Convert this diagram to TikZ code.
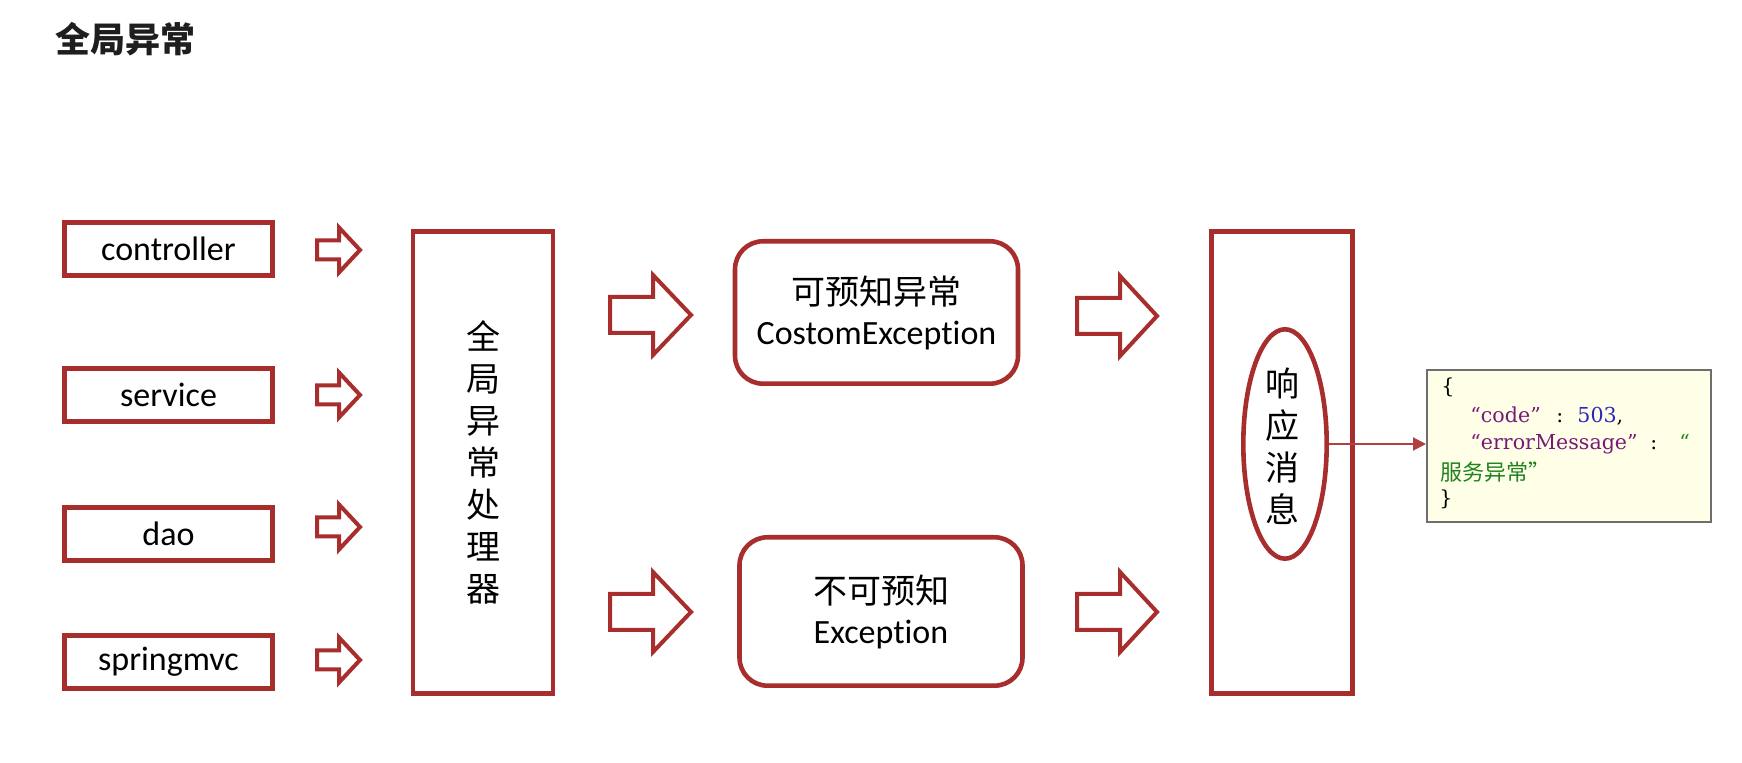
\documentclass[tikz,border=0pt]{standalone}
\usepackage{fontspec}
\setmainfont{Carlito}[Ligatures={NoCommon,NoContextual}]
\newfontfamily\cjk{Noto Sans CJK SC}
\newfontfamily\jsonfont{DejaVu Serif}
\usetikzlibrary{shapes.geometric,arrows.meta}
\definecolor{boxred}{RGB}{168,45,45}
\definecolor{thinred}{RGB}{175,65,65}
\definecolor{titlegray}{RGB}{30,30,30}
\definecolor{jsonbg}{RGB}{255,255,232}
\definecolor{jsonframe}{RGB}{110,110,110}
\definecolor{jpurple}{RGB}{120,25,120}
\definecolor{jblue}{RGB}{40,40,190}
\definecolor{jgreen}{RGB}{30,130,30}
% x1, x of head start, x of tip, y centre, shaft half height, head half height
\newcommand\myblockarrow[6]{%
  \draw[blockarrowline] (#1,{#4-#5}) -- (#2,{#4-#5}) -- (#2,{#4-#6}) -- (#3,#4)
    -- (#2,{#4+#6}) -- (#2,{#4+#5}) -- (#1,{#4+#5}) -- cycle;}
\begin{document}
\begin{tikzpicture}[x=0.5pt,y=-0.5pt,
  redbox/.style={draw=boxred, line width=2.3pt, inner sep=0pt, fill=white,
    font=\fontsize{17}{20}\selectfont, align=center},
  smallbox/.style={redbox, minimum width=104.2pt, minimum height=26.7pt},
  tallbox/.style={redbox, minimum width=70pt, minimum height=231.2pt},
  roundbox/.style={redbox, rounded corners=14pt, minimum width=141.5pt},
  vtext/.style={font=\cjk\fontsize{17}{21}\selectfont, align=center, inner sep=0pt},
  blockarrowline/.style={draw=boxred, line width=2pt, line join=miter},
  jtext/.style={anchor=base west, inner sep=0pt, font=\jsonfont\fontsize{10.3}{12}\selectfont},
  jcjk/.style={anchor=base west, inner sep=0pt, font=\cjk\fontsize{11}{12}\selectfont},
]
\fill[white] (0,0) rectangle (1742,763);
\useasboundingbox (0,0) rectangle (1742,763);

% title
\node[anchor=west, inner sep=0pt, font=\cjk\bfseries\fontsize{17.5}{20}\selectfont,
  text=titlegray] (title) at (55,39) {全局异常};

% sources
\node[smallbox] (ctrl) at (168.5,249) {controller};
\node[smallbox] (svc)  at (168.5,395) {service};
\node[smallbox] (dao)  at (168.5,534) {dao};
\node[smallbox] (mvc)  at (168.5,662) {springmvc};

% small block arrows
\myblockarrow{317}{339}{360}{250}{9.5}{22.5}
\myblockarrow{317}{339}{360}{395}{9.5}{22.5}
\myblockarrow{317}{339}{360}{527}{9.5}{22.5}
\myblockarrow{317}{339}{360}{660}{9.5}{22.5}

% global handler
\node[tallbox] (handler) at (483,462.5) {};
\node[vtext] (handlertext) at (handler.center) {全\\局\\异\\常\\处\\理\\器};

% medium arrows left
\myblockarrow{610}{653}{691}{315}{18}{40}
\myblockarrow{610}{653}{691}{612}{18}{40}

% exception boxes
\node[roundbox, minimum height=71.2pt] (known) at (876.5,312.5)
  {{\cjk 可预知异常}\\CostomException};
\node[roundbox, minimum height=74.2pt] (unknown) at (881,611.5)
  {{\cjk 不可预知}\\Exception};

% medium arrows right
\myblockarrow{1077}{1120}{1157}{316}{18}{40}
\myblockarrow{1077}{1120}{1157}{612}{18}{40}

% response box
\node[tallbox, minimum width=70.7pt] (resp) at (1282,462.5) {};
\node[ellipse, draw=boxred, line width=2.3pt, minimum width=41.7pt,
  minimum height=114.7pt, inner sep=0pt] (ell) at (1285,444) {};
\node[vtext] (elltext) at (1282,446) {响\\应\\消\\息};

% json box
\node[draw=jsonframe, fill=jsonbg, line width=1pt, minimum width=142pt,
  minimum height=76pt, inner sep=0pt] (json) at (1569,446) {};
\draw[thinred, line width=1pt, -{Triangle[length=6.5pt,width=6.5pt]}]
  (ell.east) -- (ell.east -| json.west);

\node[jtext] (j1) at (1441,394) {\{};
\node[jtext, text=jpurple] (j2a) at (1470,423) {“code”};
\node[jtext] (j2b) at (1556,423) {:};
\node[jtext] (j2c) at (1577,423) {\textcolor{jblue}{503},};
\node[jtext, text=jpurple] (j3a) at (1470,450) {“errorMessage”};
\node[jtext] (j3b) at (1650,450) {:};
\node[jtext, text=jgreen] (j3c) at (1679,450) {“};
\node[jcjk, text=jgreen] (j4) at (1440,481) {服务异常”};
\node[jtext] (j5) at (1439,506) {\}};
\end{tikzpicture}
\end{document}
